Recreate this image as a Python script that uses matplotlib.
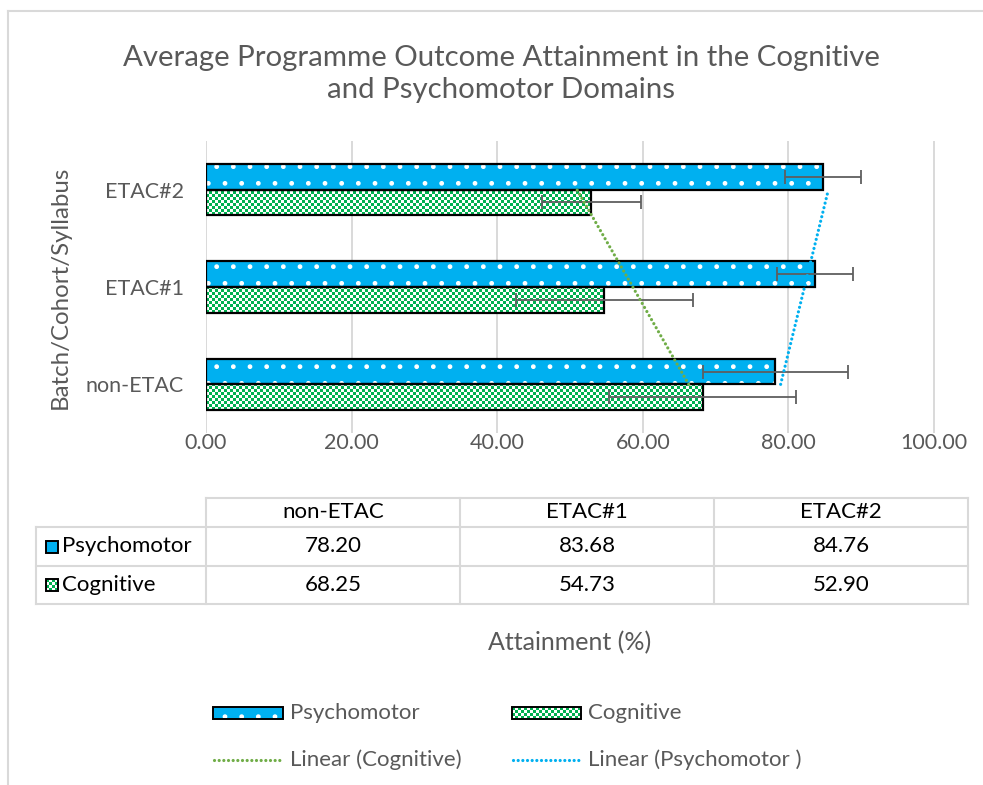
import numpy as np
import matplotlib
matplotlib.use("Agg")
import matplotlib.pyplot as plt
from matplotlib.patches import Rectangle
from matplotlib.lines import Line2D
from matplotlib.collections import PatchCollection

# ---------------- data ----------------
categories = ["non-ETAC", "ETAC#1", "ETAC#2"]
psychomotor = [78.20, 83.68, 84.76]
cognitive = [68.25, 54.73, 52.90]
psychomotor_err = [9.95, 5.20, 5.22]
cognitive_err = [12.85, 12.15, 6.80]
x_ticks = [0, 20, 40, 60, 80, 100]
series_names = ["Psychomotor", "Cognitive"]
trend_names = ["Linear (Cognitive)", "Linear (Psychomotor )"]

# ---------------- style ----------------
BLUE = "#00B0F0"
GREEN = "#00B050"
TREND_GREEN = "#70AD47"
TXT = "#595959"
GRID = "#D9D9D9"
FONT = "Lato"
plt.rcParams["font.family"] = [FONT, "DejaVu Sans"]
plt.rcParams["hatch.linewidth"] = 1.0

W, H = 983, 785
fig = plt.figure(figsize=(W / 100, H / 100), dpi=100)


def fx(px):
    return px / W


def fy(py):
    return 1 - py / H


# chart frame (top & left visible)
fig.add_artist(Line2D([fx(8), fx(8)], [fy(11), fy(785)], color=GRID, lw=1.5, transform=fig.transFigure))
fig.add_artist(Line2D([fx(8), fx(983)], [fy(11), fy(11)], color=GRID, lw=1.5, transform=fig.transFigure))

# ---------------- axes ----------------
ax_l, ax_r, ax_t, ax_b = 206, 968, 141, 433
ax = fig.add_axes([fx(ax_l), fy(ax_b), (ax_r - ax_l) / W, (ax_b - ax_t) / H])
XMAX = 104.67
for s in ax.spines.values():
    s.set_visible(False)
for t in x_ticks:
    ax.axvline(t, color=GRID, lw=1.4, zorder=0)

pos = np.arange(len(categories))
bh = 0.263
off = bh / 2

# psychomotor bars: blue with white dots
ax.barh(pos + off, psychomotor, height=bh, color=BLUE, edgecolor="white",
        hatch=".", linewidth=0, zorder=2)
ax.barh(pos + off, psychomotor, height=bh, fill=False, edgecolor="black",
        linewidth=1.6, zorder=3)

# cognitive bars: green checkerboard
cog_bars = ax.barh(pos - off, cognitive, height=bh, color="white", linewidth=0, zorder=2)
px_per_x = (ax_r - ax_l) / XMAX
px_per_y = (ax_b - ax_t) / 3.0
cell = 3.0
cx, cy = cell / px_per_x, cell / px_per_y
for bar in cog_bars:
    x0, y0 = bar.get_x(), bar.get_y()
    w, h = bar.get_width(), bar.get_height()
    nc, nr = int(np.ceil(w / cx)) + 1, int(np.ceil(h / cy)) + 1
    ii, jj = np.indices((nr, nc))
    chk = ((ii + jj) % 2 == 0)
    img = np.ones((nr, nc, 3))
    img[chk] = matplotlib.colors.to_rgb(GREEN)
    im = ax.imshow(img, extent=(x0, x0 + nc * cx, y0, y0 + nr * cy), origin="lower",
                   interpolation="nearest", aspect="auto", zorder=2.5)
    im.set_clip_path(bar)
ax.barh(pos - off, cognitive, height=bh, fill=False, edgecolor="black",
        linewidth=1.6, zorder=3)

# error bars
ax.errorbar(psychomotor, pos + off, xerr=psychomotor_err, fmt="none", ecolor="#5F5F5F",
            elinewidth=1.3, capsize=5, capthick=1.3, zorder=4)
ax.errorbar(cognitive, pos - off, xerr=cognitive_err, fmt="none", ecolor="#5F5F5F",
            elinewidth=1.3, capsize=5, capthick=1.3, zorder=4)

# linear trendlines (fit of value against category position)
dot = (0, (0.01, 1.45))
kc = np.polyfit(pos, cognitive, 1)
kp = np.polyfit(pos, psychomotor, 1)
ends = np.array([pos[0], pos[-1]])
ax.plot(np.polyval(kc, ends), ends, color=TREND_GREEN, lw=2.3, linestyle=dot,
        dash_capstyle="round", zorder=5)
ax.plot(np.polyval(kp, ends), ends, color=BLUE, lw=2.3, linestyle=dot,
        dash_capstyle="round", zorder=5)

ax.set_xlim(0, XMAX)
ax.set_ylim(-0.5, 2.5)
ax.set_xticks(x_ticks)
ax.set_xticklabels([f"{v:.2f}" for v in x_ticks])
ax.set_yticks(pos)
ax.set_yticklabels(categories)
ax.tick_params(axis="both", length=0, labelsize=15.5, labelcolor=TXT)
ax.tick_params(axis="x", pad=0)
ax.tick_params(axis="y", pad=16)

# y-axis title
fig.text(fx(60), fy(287), "Batch/Cohort/Syllabus", rotation=90, ha="center", va="center",
         fontsize=17.3, color=TXT)

# title
fig.text(fx(501), fy(74), "Average Programme Outcome Attainment in the Cognitive\nand Psychomotor Domains",
         ha="center", va="center", fontsize=21.2, color=TXT, linespacing=1.3)

# x-axis title
fig.text(fx(570), fy(643), "Attainment (%)", ha="center", va="center", fontsize=18, color=TXT)

# ---------------- data table ----------------
col_x = [206, 460, 714, 968]
row_y = [498, 527, 566, 604]
lab_l = 36
TFS = 16


def hline(x0, x1, y):
    fig.add_artist(Line2D([fx(x0), fx(x1)], [fy(y), fy(y)], color=GRID, lw=1.5,
                          transform=fig.transFigure))


def vline(x, y0, y1):
    fig.add_artist(Line2D([fx(x), fx(x)], [fy(y0), fy(y1)], color=GRID, lw=1.5,
                          transform=fig.transFigure))


hline(206, 968, row_y[0])
for y in row_y[1:]:
    hline(lab_l, 968, y)
vline(lab_l, row_y[1], row_y[3])
for x in col_x:
    vline(x, row_y[0], row_y[3])


def checker_fig(x0, y0, w, h, c=3.0):
    rects = []
    nx, ny = int(np.ceil(w / c)), int(np.ceil(h / c))
    for i in range(ny):
        for j in range(nx):
            if (i + j) % 2 == 0:
                ww = min(c, w - j * c)
                hh = min(c, h - i * c)
                rects.append(Rectangle((fx(x0 + j * c), fy(y0 + i * c + hh)), ww / W, hh / H))
    fig.add_artist(Rectangle((fx(x0), fy(y0 + h)), w / W, h / H, facecolor="white",
                             edgecolor="none", transform=fig.transFigure))
    pc = PatchCollection(rects, facecolor=GREEN, edgecolor="none", transform=fig.transFigure)
    fig.add_artist(pc)
    fig.add_artist(Rectangle((fx(x0), fy(y0 + h)), w / W, h / H, facecolor="none",
                             edgecolor="black", lw=1.4, transform=fig.transFigure))


def blue_fig(x0, y0, w, h, hatch=None):
    fig.add_artist(Rectangle((fx(x0), fy(y0 + h)), w / W, h / H, facecolor=BLUE,
                             edgecolor="white", lw=0, hatch=hatch, transform=fig.transFigure))
    fig.add_artist(Rectangle((fx(x0), fy(y0 + h)), w / W, h / H, facecolor="none",
                             edgecolor="black", lw=1.4, transform=fig.transFigure))


for j, cat in enumerate(categories):
    cxm = (col_x[j] + col_x[j + 1]) / 2
    fig.text(fx(cxm), fy((row_y[0] + row_y[1]) / 2), cat, ha="center", va="center",
             fontsize=TFS, color="black")
    fig.text(fx(cxm), fy((row_y[1] + row_y[2]) / 2), f"{psychomotor[j]:.2f}", ha="center",
             va="center", fontsize=TFS, color="black")
    fig.text(fx(cxm), fy((row_y[2] + row_y[3]) / 2), f"{cognitive[j]:.2f}", ha="center",
             va="center", fontsize=TFS, color="black")

ym1 = (row_y[1] + row_y[2]) / 2
ym2 = (row_y[2] + row_y[3]) / 2
blue_fig(46, ym1 - 6, 12, 12)
fig.text(fx(62), fy(ym1), series_names[0], ha="left", va="center", fontsize=TFS, color="black")
checker_fig(46, ym2 - 6, 12, 12)
fig.text(fx(62), fy(ym2), series_names[1], ha="left", va="center", fontsize=TFS, color="black")

# ---------------- legend ----------------
ly1, ly2 = 713, 760
LFS = 16
blue_fig(213, ly1 - 6, 70, 12, hatch=".")
fig.text(fx(290), fy(ly1), series_names[0], ha="left", va="center", fontsize=LFS, color=TXT)
checker_fig(512, ly1 - 6, 69, 12)
fig.text(fx(588), fy(ly1), series_names[1], ha="left", va="center", fontsize=LFS, color=TXT)
fig.add_artist(Line2D([fx(214), fx(283)], [fy(ly2), fy(ly2)], color=TREND_GREEN, lw=2.3,
                      linestyle=dot, dash_capstyle="round", transform=fig.transFigure))
fig.text(fx(290), fy(ly2), trend_names[0], ha="left", va="center", fontsize=LFS, color=TXT)
fig.add_artist(Line2D([fx(513), fx(581)], [fy(ly2), fy(ly2)], color=BLUE, lw=2.3,
                      linestyle=dot, dash_capstyle="round", transform=fig.transFigure))
fig.text(fx(588), fy(ly2), trend_names[1], ha="left", va="center", fontsize=LFS, color=TXT)

fig.savefig("out.png", dpi=100, facecolor="white")
